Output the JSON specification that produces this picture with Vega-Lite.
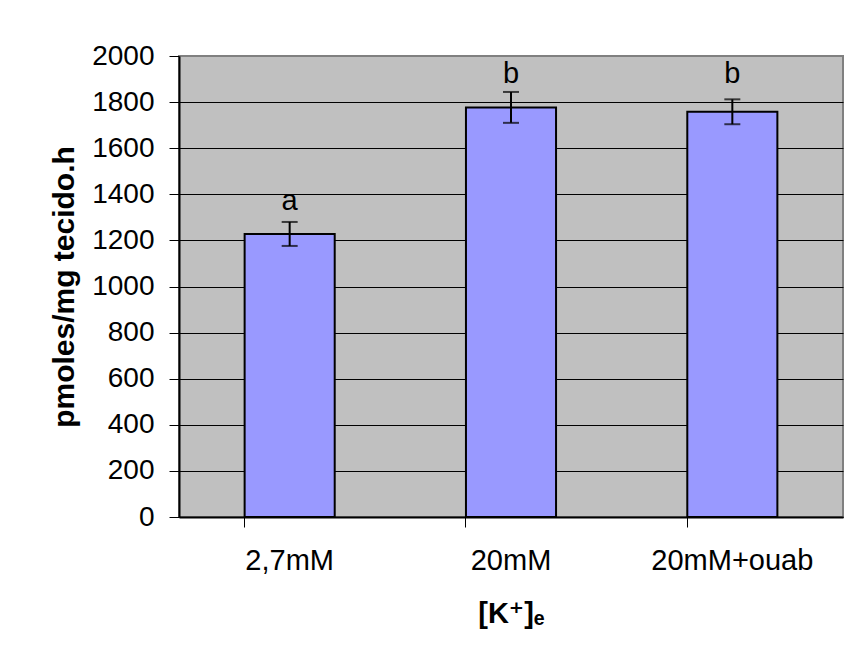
{
  "$schema": "https://vega.github.io/schema/vega-lite/v6.json",
  "width": 664,
  "height": 461,
  "autosize": "none",
  "padding": {"left": 179, "top": 56, "right": 8, "bottom": 147},
  "background": "white",
  "config": {
    "font": "Liberation Sans, DejaVu Sans, Arial, sans-serif",
    "view": {"fill": "#C0C0C0", "stroke": "#808080", "strokeWidth": 2}
  },
  "data": {
    "values": [
      {"grupo": "2,7mM", "media": 1228, "low": 1176, "high": 1280, "letra": "a", "pos": 1331},
      {"grupo": "20mM", "media": 1777, "low": 1710, "high": 1844, "letra": "b", "pos": 1882},
      {"grupo": "20mM+ouab", "media": 1758, "low": 1704, "high": 1812, "letra": "b", "pos": 1882}
    ]
  },
  "encoding": {
    "x": {
      "field": "grupo",
      "type": "nominal",
      "sort": null,
      "scale": {"paddingInner": 0.593, "paddingOuter": 0.2965},
      "axis": {
        "title": "[K⁺]ₑ",
        "titleFontSize": 29,
        "titleFontWeight": "bold",
        "titleColor": "black",
        "titlePadding": 24,
        "labelFontSize": 29,
        "labelColor": "black",
        "labelAngle": 0,
        "labelPadding": 19,
        "bandPosition": 0,
        "tickSize": 10,
        "tickColor": "black",
        "tickWidth": 1,
        "domainColor": "black",
        "domainWidth": 2,
        "grid": false
      }
    }
  },
  "layer": [
    {
      "mark": {"type": "bar", "fill": "#9999FF", "stroke": "black", "strokeWidth": 2},
      "encoding": {
        "y": {
          "field": "media",
          "type": "quantitative",
          "scale": {"domain": [0, 2000], "nice": false},
          "axis": {
            "title": "pmoles/mg tecido.h",
            "titleFontSize": 30,
            "titleFontWeight": "bold",
            "titleColor": "black",
            "titlePadding": 12,
            "values": [0, 200, 400, 600, 800, 1000, 1200, 1400, 1600, 1800, 2000],
            "format": "d",
            "labelFontSize": 28,
            "labelColor": "black",
            "labelPadding": 15,
            "tickSize": 10,
            "tickColor": "black",
            "tickWidth": 1,
            "domainColor": "black",
            "domainWidth": 2,
            "grid": true,
            "gridColor": {"condition": {"test": "datum.value === 2000", "value": "#808080"}, "value": "black"},
            "gridWidth": 1,
            "gridOpacity": 1
          }
        }
      }
    },
    {
      "mark": {"type": "rule", "color": "black", "strokeWidth": 2},
      "encoding": {
        "y": {"field": "low", "type": "quantitative"},
        "y2": {"field": "high"}
      }
    },
    {
      "mark": {"type": "tick", "color": "black", "thickness": 2, "size": 16, "orient": "horizontal"},
      "encoding": {"y": {"field": "low", "type": "quantitative"}}
    },
    {
      "mark": {"type": "tick", "color": "black", "thickness": 2, "size": 16, "orient": "horizontal"},
      "encoding": {"y": {"field": "high", "type": "quantitative"}}
    },
    {
      "mark": {"type": "text", "fontSize": 29, "color": "black", "baseline": "alphabetic", "align": "center"},
      "encoding": {
        "y": {"field": "pos", "type": "quantitative"},
        "text": {"field": "letra"}
      }
    }
  ]
}
